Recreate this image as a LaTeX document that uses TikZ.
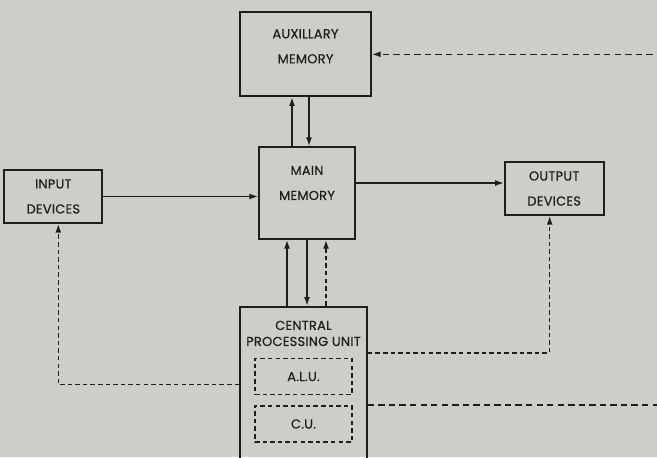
\documentclass[tikz,border=0pt]{standalone}
\usepackage{fontspec}
\setmainfont{Poppins}
\newfontfamily\boxfont{Poppins}[FakeBold=0.5, LetterSpace=2]
\usetikzlibrary{positioning, arrows.meta, calc}
\definecolor{paper}{RGB}{205,205,202}
\definecolor{ink}{RGB}{30,30,30}

\begin{document}
\begin{tikzpicture}[
    unit/.style={draw=ink, line width=1.2pt},
    caption/.style={font=\boxfont\fontsize{9.2}{17.8}\selectfont, align=center, text=ink},
    cpucap/.style={font=\boxfont\fontsize{9.2}{11.4}\selectfont, align=center, text=ink},
    part/.style={draw=ink, line width=1pt, dash pattern=on 3.2pt off 2.2pt, minimum width=2.425cm, minimum height=0.9cm, font=\boxfont\fontsize{9.2}{10}\selectfont, text=ink},
    arrow/.style={-{Latex[length=2.2mm, width=1.5mm]}, line width=1.1pt, draw=ink},
    ctrl/.style={arrow, dash pattern=on 3.2pt off 2.2pt},
    longdash/.style={dash pattern=on 4.5pt off 3pt},
]
    % page
    \path[use as bounding box, fill=paper] (0,0) rectangle (16.425,-11.425);

    % Main memory in the middle
    \node[unit, minimum width=2.4cm, minimum height=2.3cm,
          label={[caption, yshift=0.25cm]center:MAIN\\MEMORY}] (main) at (7.675,-4.825) {};

    % Auxillary memory above
    \node[unit, minimum width=3.275cm, minimum height=2.1cm, above=1.225cm of main, xshift=-0.0375cm,
          label={[caption, yshift=0.2cm]center:AUXILLARY\\MEMORY}] (aux) {};

    % Input / output devices
    \node[unit, minimum width=2.45cm, minimum height=1.325cm, left=3.875cm of main, yshift=-0.0875cm,
          label={[caption]center:INPUT\\DEVICES}] (input) {};
    \node[unit, minimum width=2.475cm, minimum height=1.325cm, right=3.7cm of main, yshift=0.1125cm,
          label={[caption]center:OUTPUT\\DEVICES}] (output) {};

    % Central processing unit
    \node[unit, minimum width=3.175cm, minimum height=4.125cm, anchor=north, below=1.65cm of main, xshift=-0.0875cm,
          label={[cpucap, anchor=north, yshift=-0.25cm]north:CENTRAL\\PROCESSING UNIT}] (cpu) {};
    \node[part, below=1.3cm of cpu.north] (alu) {A.L.U.};
    \node[part, below=0.25cm of alu] (cu) {C.U.};

    % Data flow
    \draw[arrow] (input.east) -- (input.east -| main.west);
    \draw[arrow] ([yshift=0.25cm]main.east) -- ([yshift=0.25cm]main.east -| output.west);
    \draw[arrow] ([xshift=-0.375cm]main.north) -- ([xshift=-0.375cm]main.north |- aux.south);
    \draw[arrow] ([xshift=0.05cm]main.north |- aux.south) -- ([xshift=0.05cm]main.north);
    \draw[arrow] ([xshift=-0.5cm]main.south |- cpu.north) -- ([xshift=-0.5cm]main.south);
    \draw[arrow] (main.south) -- (main.south |- cpu.north);

    % Control signals
    \draw[ctrl] ([xshift=0.475cm]main.south |- cpu.north) -- ([xshift=0.475cm]main.south);
    \draw[ctrl] ([yshift=0.125cm]alu.north -| cpu.east) -| ([xshift=-0.1125cm]output.south);
    \draw[ctrl] ([yshift=-0.2cm]alu.center -| cpu.west) -| ([xshift=0.125cm]input.south);
    \coordinate (offpage) at (17.2,0);
    \draw[ctrl, longdash] (cu.north -| cpu.east) -| (offpage |- aux.east) -- (aux.east);
\end{tikzpicture}
\end{document}
